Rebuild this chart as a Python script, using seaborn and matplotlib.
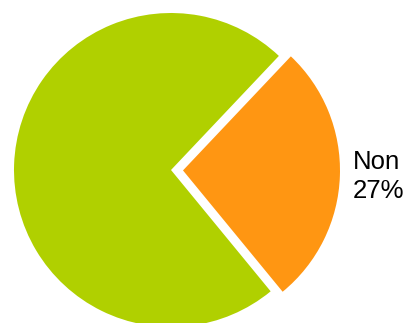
import matplotlib
matplotlib.use("Agg")
import matplotlib.pyplot as plt
import seaborn as sns

sns.set_theme(style="white")
plt.rcParams["font.family"] = ["Liberation Sans", "DejaVu Sans"]

# Survey answers
categories = ["Oui", "Non"]
values = [73, 27]
colors = ["#B0D000", "#FF9612"]
show_label = [False, True]

labels = [f"{c}\n{v}%" if s else "" for c, v, s in zip(categories, values, show_label)]

W, H = 410, 323
fig = plt.figure(figsize=(W / 100, H / 100), dpi=100)
ax = fig.add_axes([0, 0, 1, 1])

cx, cy, r = 171, H - 170, 157
wedges, texts = ax.pie(
    values,
    labels=labels,
    colors=colors,
    startangle=46.6,
    counterclock=True,
    explode=[0, 12],
    radius=r,
    center=(cx, cy),
    labeldistance=1.085,
    wedgeprops=dict(linewidth=0),
    textprops=dict(fontsize=18.5, color="black", linespacing=1.26),
    frame=True,
)
ax.set_xlim(0, W)
ax.set_ylim(0, H)
ax.set_aspect("equal")
ax.axis("off")

fig.savefig("out.png", dpi=100, facecolor="white")
